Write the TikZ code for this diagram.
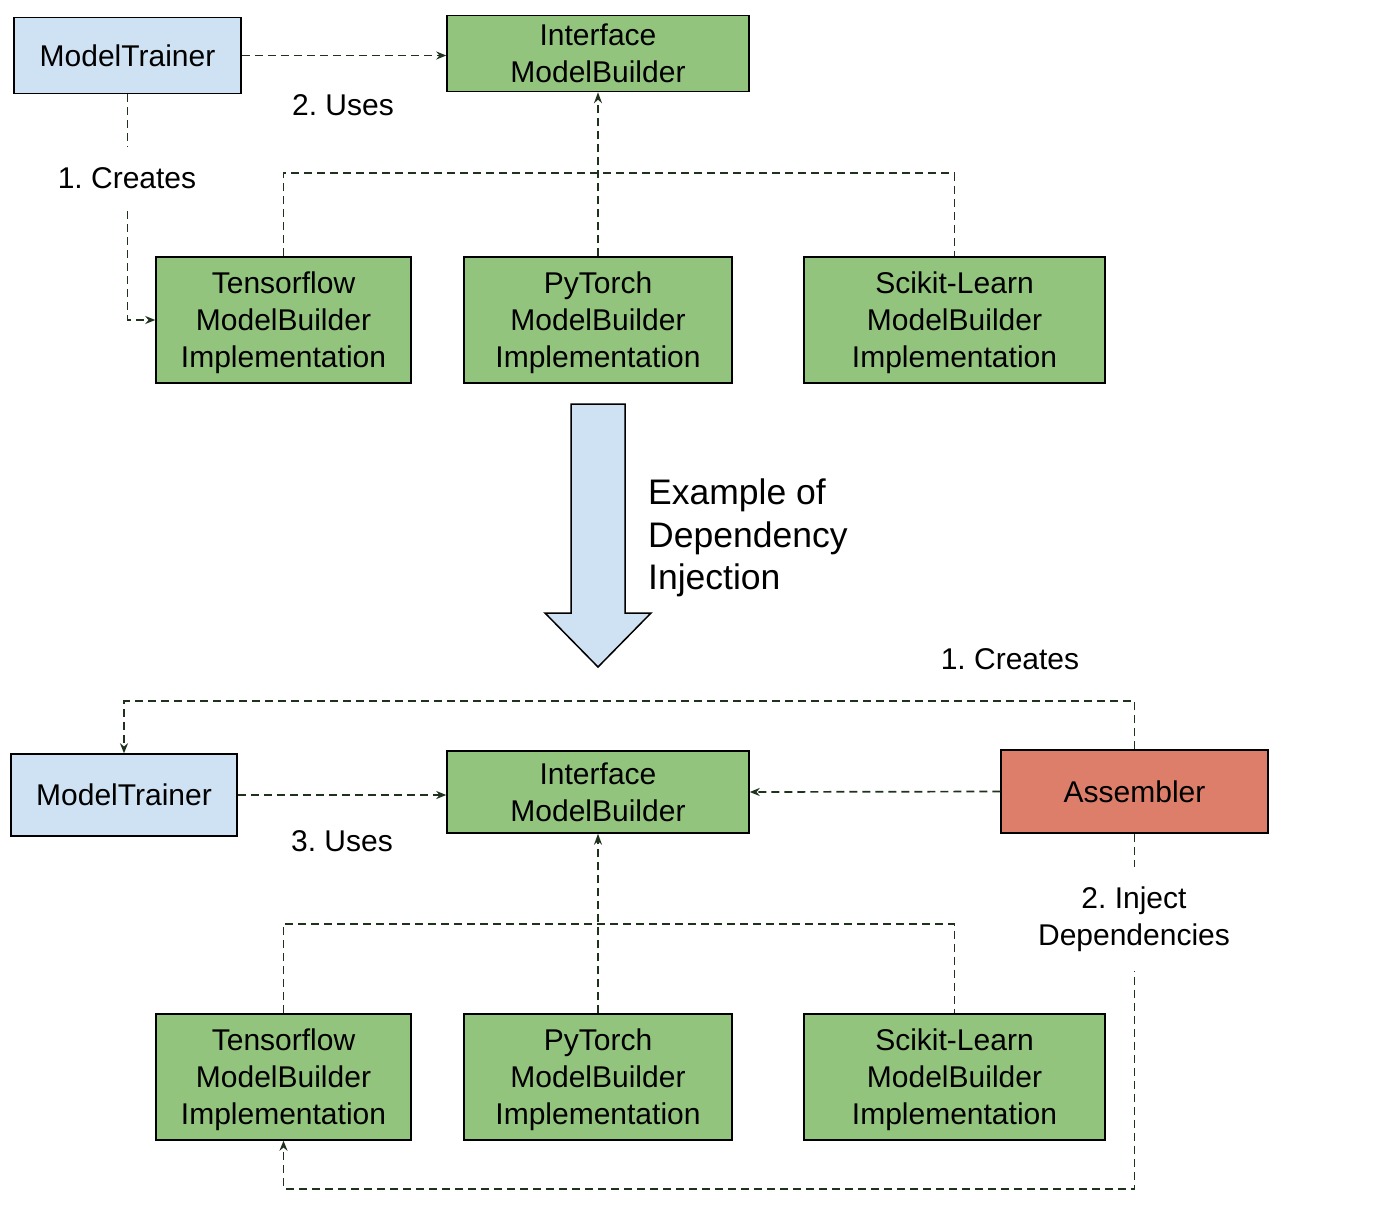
\documentclass[tikz,border=0pt]{standalone}
\usepackage{fontspec}
\setmainfont{Liberation Sans}
\usetikzlibrary{arrows.meta,calc}
\definecolor{trainerblue}{HTML}{CFE2F3}
\definecolor{buildergreen}{HTML}{93C47D}
\definecolor{assemblerred}{HTML}{DD7E6B}
\definecolor{linkgreen}{HTML}{1E321E}
\frenchspacing

\begin{document}
\begin{tikzpicture}[x=1pt,y=-1pt,
   box/.style={rectangle,draw=black,line width=1.5pt,inner sep=0pt,align=center,
               text depth=0pt,font=\fontsize{30}{37}\selectfont},
   trainer/.style={box,fill=trainerblue,minimum width=227pt,minimum height=76pt},
   iface/.style={box,fill=buildergreen,minimum width=302pt,minimum height=76pt},
   impl/.style={box,fill=buildergreen,minimum height=126pt},
   assembler/.style={box,fill=assemblerred,minimum width=267pt,minimum height=83pt},
   dep/.style={draw=linkgreen,line width=1.7pt,dash pattern=on 8pt off 5pt},
   tip/.style={-{Stealth[length=10pt,width=8pt]}},
   opentip/.style={-{Stealth[open,length=11pt,width=8pt]}},
   lbl/.style={font=\fontsize{30}{37}\selectfont,align=center,inner sep=2pt}]
   \useasboundingbox (0,0) rectangle (1400,1215);
   % top: without injection
   \path (127.5,55.5) node (mt1) [trainer] {ModelTrainer}
         (598,53.5)   node (if1) [iface] {Interface\\ModelBuilder}
         (283.5,320)  node (tf1) [impl,minimum width=255pt] {Tensorflow\\ModelBuilder\\Implementation}
         (598,320)    node (pt1) [impl,minimum width=268pt] {PyTorch\\ModelBuilder\\Implementation}
         (954.5,320)  node (sk1) [impl,minimum width=301pt] {Scikit-Learn\\ModelBuilder\\Implementation};
   \coordinate (bus1) at (598,173);
   \draw [dep,tip] (mt1.east) -- (mt1.east -| if1.west);
   \draw [dep,tip] (mt1.south) |- (tf1.west);
   \draw [dep] (tf1.north) |- (bus1) -| (sk1.north);
   \draw [dep,opentip] (pt1.north) -- (if1.south);
   \node (uses1) at (343,105) [lbl] {2. Uses};
   \node (creates1) at (127,178) [lbl,fill=white,minimum height=62pt] {1. Creates};
   % big arrow
   \draw [fill=trainerblue,line width=1.5pt,line join=miter]
      (571,404) -- (625,404) -- (625,613) -- (651,613) -- (598,667)
      -- (545,613) -- (571,613) -- cycle;
   \node (title) at (648,538) [anchor=west,align=left,inner sep=0pt,
      font=\fontsize{35.5}{42.5}\selectfont] {Example of\\Dependency\\Injection};
   % bottom: with injection
   \path (124,795)    node (mt2) [trainer,minimum width=226pt,minimum height=82pt] {ModelTrainer}
         (598,792)    node (if2) [iface,minimum height=82pt] {Interface\\ModelBuilder}
         (1134.5,791.5) node (asm) [assembler] {Assembler}
         (283.5,1077) node (tf2) [impl,minimum width=255pt] {Tensorflow\\ModelBuilder\\Implementation}
         (598,1077)   node (pt2) [impl,minimum width=268pt] {PyTorch\\ModelBuilder\\Implementation}
         (954.5,1077) node (sk2) [impl,minimum width=301pt] {Scikit-Learn\\ModelBuilder\\Implementation};
   \coordinate (bus2) at (598,924);
   \draw [dep,tip] (asm.north) -- ++(0,-48) -| (mt2.north);
   \draw [dep,tip] (asm.west) -- (if2.east);
   \draw [dep,tip] (mt2.east) -- (mt2.east -| if2.west);
   \draw [dep,tip] (asm.south) -- ++(0,355) -| (tf2.south);
   \draw [dep] (tf2.north) |- (bus2) -| (sk2.north);
   \draw [dep,opentip] (pt2.north) -- (if2.south);
   \node (creates2) at (1010,659) [lbl] {1. Creates};
   \node (uses2) at (342,841) [lbl] {3. Uses};
   \node (inject) at (1134,919) [lbl,fill=white,minimum height=104pt] {2. Inject\\Dependencies};
\end{tikzpicture}
\end{document}
